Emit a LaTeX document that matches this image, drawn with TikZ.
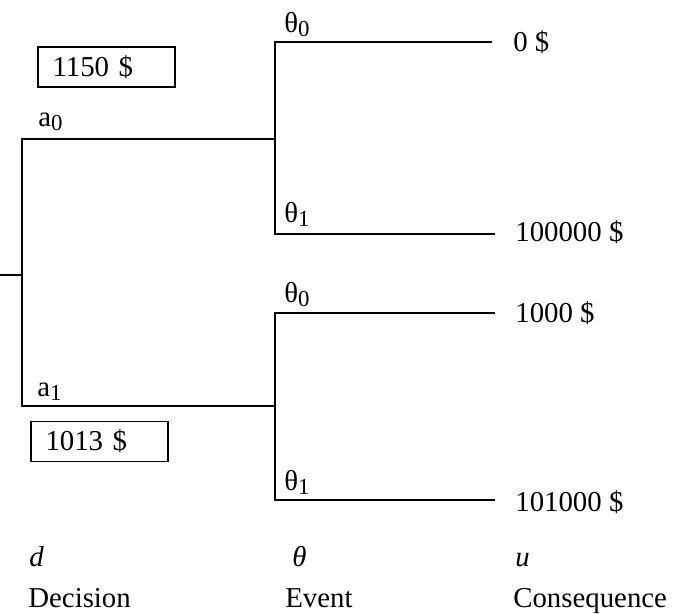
\documentclass[tikz,border=0pt]{standalone}
\usepackage{fontspec}
\setmainfont{Liberation Serif}
\usepackage{tikz}

\tikzset{
	tree/.style={line width=0.95pt},
	lbl/.style={anchor=base west, inner sep=0pt, font=\fontsize{16.4}{20}\selectfont},
	valbox/.style={draw, line width=0.8pt, minimum height=0.8cm, text width=2.16cm, inner xsep=0.29cm, align=left, font=\fontsize{16.4}{20}\selectfont}
}
\newcommand{\sub}[1]{\raisebox{-0.25ex}{\fontsize{13}{15}\selectfont #1}}

\begin{document}
\begin{tikzpicture}
		\useasboundingbox (0,0) rectangle (13.62,12.28);
		% tree points
		\coordinate (R) at (0,6.78);
		\coordinate (D) at (0.44,6.78);
		\coordinate (E0) at (5.5,9.5);
		\coordinate (E1) at (5.5,4.16);
		\coordinate (C00) at (9.84,11.44);
		\coordinate (C01) at (9.9,7.6);
		\coordinate (C10) at (9.9,6.02);
		\coordinate (C11) at (9.9,2.28);
		%
		\draw[tree] (R) -- (D)
		(D) |- (E0) (D) |- (E1)
		(E0) |- (C00) (E0) |- (C01)
		(E1) |- (C10) (E1) |- (C11);
		%
		\node[valbox] (V0) at (2.13,10.94) {1150 \$};
		\node[valbox] (V1) at (1.99,3.45) {1013 \$};
		%
		\node[lbl] (A0) at (0.76,9.74) {a\sub{0}};
		\node[lbl] (A1) at (0.74,4.34) {a\sub{1}};
		\node[lbl] (T00) at (5.68,11.62) {θ\sub{0}};
		\node[lbl] (T01) at (5.68,7.82) {θ\sub{1}};
		\node[lbl] (T10) at (5.68,6.22) {θ\sub{0}};
		\node[lbl] (T11) at (5.68,2.46) {θ\sub{1}};
		%
		\node[lbl] (U00) at (10.26,11.24) {0 \$};
		\node[lbl] (U01) at (10.3,7.44) {100000 \$};
		\node[lbl] (U10) at (10.3,5.82) {1000 \$};
		\node[lbl] (U11) at (10.3,2.04) {101000 \$};
		%
		\node[lbl] (SD) at (0.58,0.94) {\textit{d}};
		\node[lbl] (ST) at (5.84,0.94) {\textit{θ}};
		\node[lbl] (SU) at (10.3,0.94) {\textit{u}};
		\node[lbl] (LD) at (0.56,0.12) {Decision};
		\node[lbl] (LE) at (5.7,0.12) {Event};
		\node[lbl] (LC) at (10.26,0.12) {Consequence};
		\end{tikzpicture}
\end{document}
